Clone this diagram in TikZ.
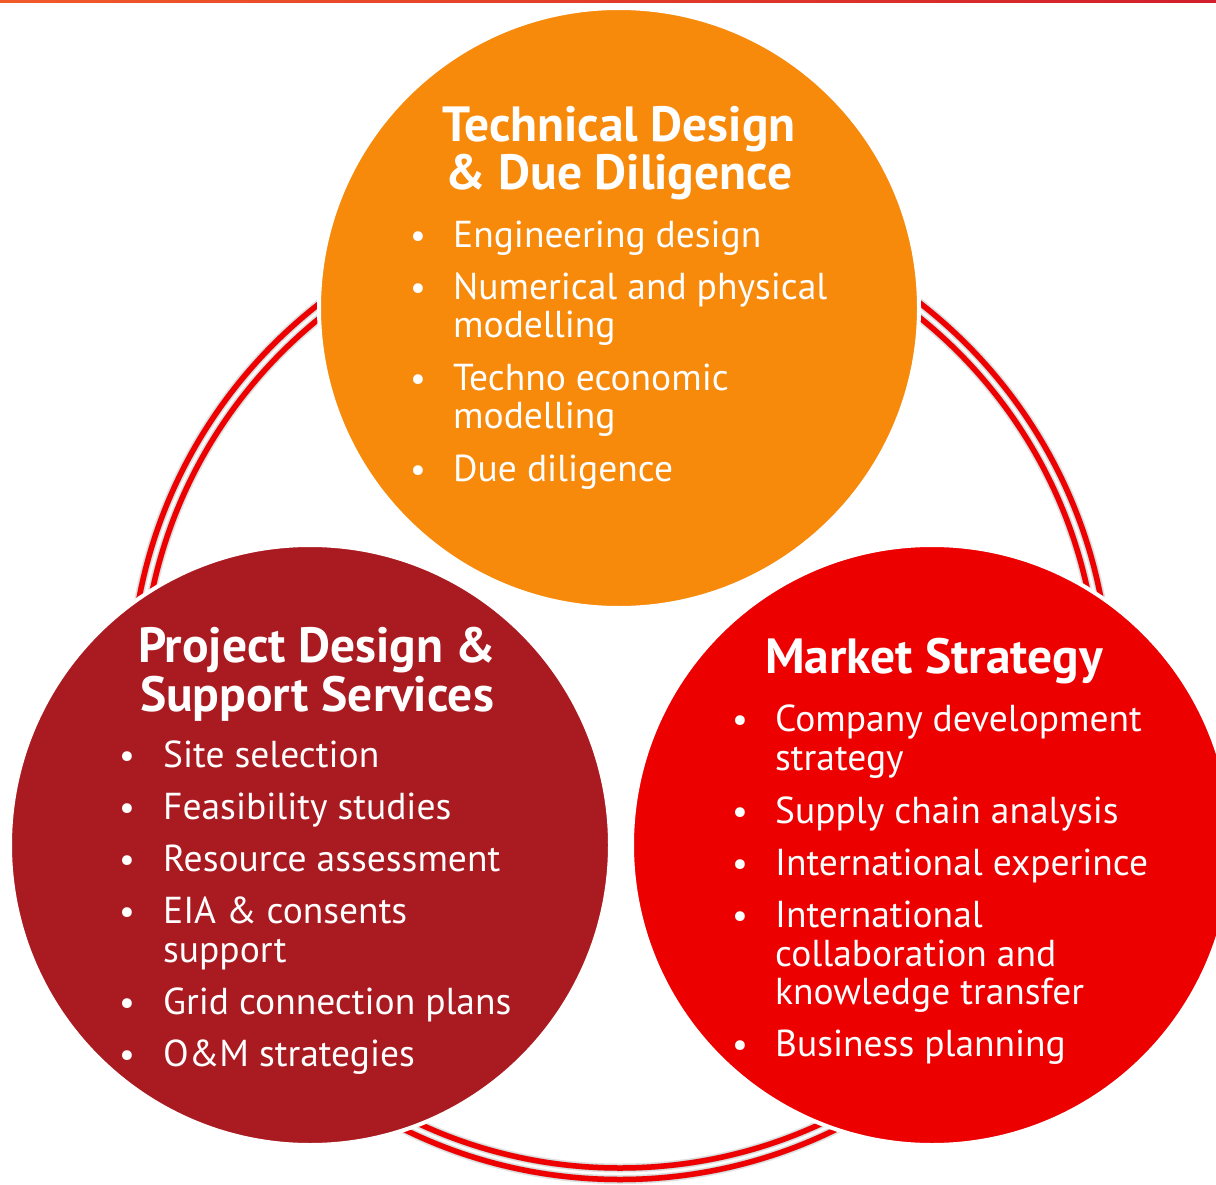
\documentclass[tikz,border=0pt]{standalone}
\usepackage{fontspec}
\setmainfont{PT Sans}
\definecolor{techorange}{HTML}{F7890B}
\definecolor{projred}{HTML}{AA1B21}
\definecolor{marketred}{HTML}{EC0000}
\definecolor{ringred}{HTML}{EE0000}
\definecolor{barA}{HTML}{F15A29}
\definecolor{barB}{HTML}{F47A30}
\definecolor{barC}{HTML}{D11F2B}
\begin{document}
\begin{tikzpicture}[x=1pt,y=-1pt,
  disc/.style={draw=white,line width=4pt},
  ttl/.style={anchor=base,text=white,inner sep=0pt,font=\fontsize{49.5}{50}\selectfont\bfseries},
  itm/.style={anchor=base west,text=white,inner sep=0pt,font=\fontsize{37.5}{38}\selectfont},
  dot/.style={anchor=base,text=white,inner sep=0pt,font=\fontsize{35}{38}\selectfont},
  ringline/.style={draw=ringred,line width=5.5pt},
  ringshade/.style={draw=black!25,line width=6pt}]
\useasboundingbox (0,0) rectangle (1216,1185);
\fill[white] (0,0) rectangle (1216,1185);

% thin gradient bar along the top edge
\shade[left color=barA, middle color=barB!60!barC, right color=barC] (0,0) rectangle (1216,2.5);

% double ring behind the three circles, with a soft drop shadow
\coordinate (ringc) at (620,690);
\begin{scope}[shift={(2.5,3)}]
  \draw[ringshade,draw=black!12,line width=9pt] (ringc) circle[radius=489.5pt];
  \draw[ringshade,draw=black!12,line width=9pt] (ringc) circle[radius=478pt];
  \draw[ringshade] (ringc) circle[radius=489.5pt];
  \draw[ringshade] (ringc) circle[radius=478pt];
\end{scope}
\draw[ringline] (ringc) circle[radius=489.5pt];
\draw[ringline] (ringc) circle[radius=478pt];

% the three service circles
\fill[techorange,disc] (619,308) circle[radius=300pt];
\fill[projred,disc] (310,845) circle[radius=300pt];
\fill[marketred,disc] (932,845) circle[radius=300pt];

% Technical Design & Due Diligence
\node[ttl] (tA) at (619,142) {Technical Design};
\node[ttl] (tB) at (619,190) {\& Due Diligence};
\node[dot] (tb1) at (418,248) {•};
\node[itm] (ti1) at (453,248) {Engineering design};
\node[dot] (tb2) at (418,299) {•};
\node[itm] (ti2) at (453,299) {Numerical and physical};
\node[itm] (ti2b) at (453,337) {modelling};
\node[dot] (tb3) at (418,390) {•};
\node[itm] (ti3) at (453,390) {Techno economic};
\node[itm] (ti3b) at (453,428) {modelling};
\node[dot] (tb4) at (418,481) {•};
\node[itm] (ti4) at (453,481) {Due diligence};

% Project Design & Support Services
\node[ttl] (pA) at (317,662) {Project Design \&};
\node[ttl] (pB) at (317,711) {Support Services};
\node[dot] (pb1) at (127,767) {•};
\node[itm] (pi1) at (163,767) {Site selection};
\node[dot] (pb2) at (127,819) {•};
\node[itm] (pi2) at (163,819) {Feasibility studies};
\node[dot] (pb3) at (127,871) {•};
\node[itm] (pi3) at (163,871) {Resource assessment};
\node[dot] (pb4) at (127,923) {•};
\node[itm] (pi4) at (163,923) {EIA \& consents};
\node[itm] (pi4b) at (163,962) {support};
\node[dot] (pb5) at (127,1014) {•};
\node[itm] (pi5) at (163,1014) {Grid connection plans};
\node[dot] (pb6) at (127,1066) {•};
\node[itm] (pi6) at (163,1066) {O\&M strategies};

% Market Strategy
\node[ttl] (mA) at (934,673) {Market Strategy};
\node[dot] (mb1) at (740,731) {•};
\node[itm] (mi1) at (775,731) {Company development};
\node[itm] (mi1b) at (775,770) {strategy};
\node[dot] (mb2) at (740,823) {•};
\node[itm] (mi2) at (775,823) {Supply chain analysis};
\node[dot] (mb3) at (740,875) {•};
\node[itm] (mi3) at (775,875) {International experince};
\node[dot] (mb4) at (740,927) {•};
\node[itm] (mi4) at (775,927) {International};
\node[itm] (mi4b) at (775,966) {collaboration and};
\node[itm] (mi4c) at (775,1004) {knowledge transfer};
\node[dot] (mb5) at (740,1056) {•};
\node[itm] (mi5) at (775,1056) {Business planning};
\end{tikzpicture}
\end{document}
